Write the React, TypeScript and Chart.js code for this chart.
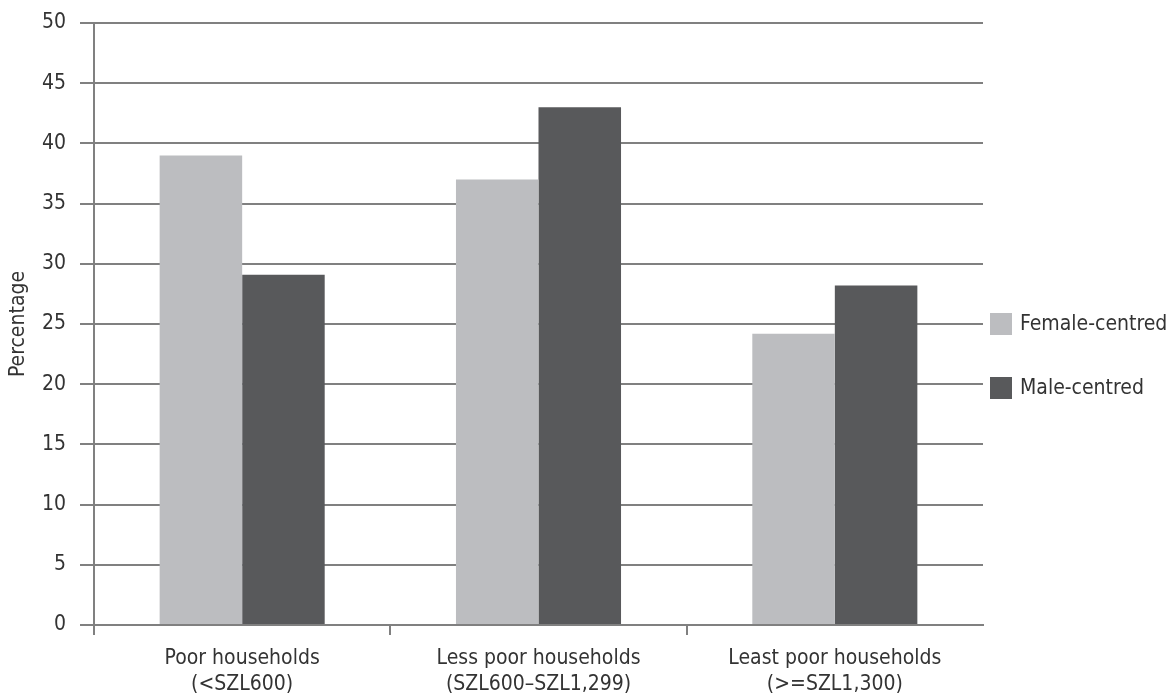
import React, { useEffect, useRef } from 'react';
import { Chart, registerables } from 'chart.js';

Chart.register(...registerables);

const categories: string[][] = [
  ['Poor households', '(<SZL600)'],
  ['Less poor households', '(SZL600–SZL1,299)'],
  ['Least poor households', '(>=SZL1,300)'],
];
const seriesLabels: string[] = ['Female-centred', 'Male-centred'];
const femaleValues: number[] = [39, 37, 24.2];
const maleValues: number[] = [29.1, 43, 28.2];
const yMin = 0;
const yMax = 50;
const yStep = 5;
const yTitle = 'Percentage';

const FONT = "'DejaVu Sans Condensed', 'Liberation Sans Narrow', sans-serif";
const FSIZE = 21;
const TEXT = '#333333';
const GRID = '#808080';
const FEMALE = '#bcbdc0';
const MALE = '#58595b';

export default function App() {
  const ref = useRef<HTMLCanvasElement>(null);

  useEffect(() => {
    if (!ref.current) return;
    const sideLegend = {
      id: 'sideLegend',
      afterDraw(chart: any) {
        const { ctx, chartArea } = chart;
        const cy = (chartArea.top + chartArea.bottom) / 2;
        chart.data.datasets.forEach((ds: any, i: number) => {
          const y = cy + i * 64;
          const x = chartArea.right + 7;
          ctx.save();
          ctx.fillStyle = ds.backgroundColor;
          ctx.fillRect(x, y - 11, 22, 22);
          ctx.fillStyle = TEXT;
          ctx.font = `${FSIZE}px ${FONT}`;
          ctx.textBaseline = 'middle';
          ctx.textAlign = 'left';
          ctx.fillText(ds.label, x + 30, y + 1);
          ctx.restore();
        });
      },
    };

    const edgeColor = (c: any) => (c.type === 'tick' ? GRID : 'rgba(0,0,0,0)');

    const chart = new Chart(ref.current, {
      type: 'bar',
      data: {
        labels: categories,
        datasets: [
          {
            label: seriesLabels[0],
            data: femaleValues,
            backgroundColor: FEMALE,
            categoryPercentage: 0.557,
            barPercentage: 1,
          },
          {
            label: seriesLabels[1],
            data: maleValues,
            backgroundColor: MALE,
            categoryPercentage: 0.557,
            barPercentage: 1,
          },
        ],
      },
      options: {
        animation: false,
        responsive: false,
        layout: { padding: { left: 0, right: 193, top: 23, bottom: 0 } },
        plugins: {
          legend: { display: false },
          tooltip: { enabled: false },
        },
        scales: {
          x: {
            grid: {
              display: true,
              drawOnChartArea: false,
              drawTicks: true,
              tickLength: 10,
              offset: true,
              color: edgeColor,
              tickColor: edgeColor,
              lineWidth: 2,
              tickWidth: 2,
            },
            border: { display: true, color: GRID, width: 2 },
            ticks: {
              color: TEXT,
              font: { family: FONT, size: FSIZE, lineHeight: 1.25 },
              padding: 10,
              maxRotation: 0,
              autoSkip: false,
            },
            afterFit: (s: any) => {
              s.height = 70;
              s.paddingLeft = 0;
              s.paddingRight = 0;
            },
          },
          y: {
            min: yMin,
            max: yMax,
            ticks: {
              stepSize: yStep,
              color: TEXT,
              font: { family: FONT, size: FSIZE },
              padding: 14,
            },
            grid: { color: GRID, lineWidth: 2, tickLength: 14, drawTicks: true },
            border: { display: true, color: GRID, width: 2 },
            title: {
              display: true,
              text: yTitle,
              color: TEXT,
              font: { family: FONT, size: FSIZE },
              padding: { top: 6, bottom: 0 },
            },
            afterFit: (s: any) => {
              s.width = 94;
              s.paddingTop = 0;
              s.paddingBottom = 0;
            },
          },
        },
      },
      plugins: [sideLegend],
    } as any);

    return () => chart.destroy();
  }, []);

  return (
    <div style={{ position: 'fixed', left: 0, top: 0, width: 1176, height: 695, background: '#ffffff' }}>
      <canvas ref={ref} width={1176} height={695} style={{ display: 'block' }} />
    </div>
  );
}
